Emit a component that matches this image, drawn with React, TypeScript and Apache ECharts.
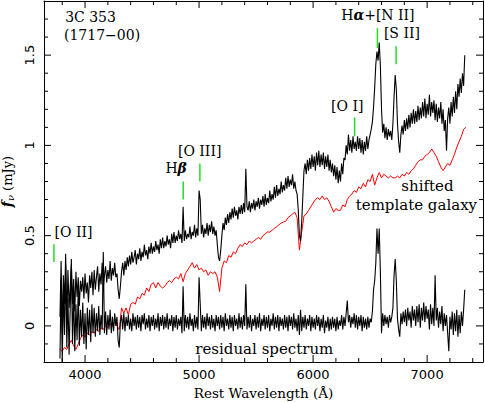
import React, { useEffect, useRef } from "react";
import * as echarts from "echarts";

const SPEC_START = 3780;
const SPEC_STEP = 10;
const TEMPLATE_START = 3780;
const TEMPLATE_STEP = 20;

// Observed spectrum f_nu (mJy) (10 Å steps from 3780 Å)
const OBSERVED = [
  0.05, 0.36, -0.04, 0.28, 0.12, 0.40, 0.02, 0.31, 0.10, 0.22,
  0.34, 0.12, 0.26, 0.08, 0.30, 0.16, 0.27, 0.11, 0.25, 0.19,
  0.27, 0.15, 0.29, 0.18, 0.24, 0.13, 0.28, 0.21, 0.30, 0.17,
  0.31, 0.20, 0.27, 0.33, 0.19, 0.29, 0.23, 0.35, 0.21, 0.28,
  0.33, 0.24, 0.31, 0.26, 0.36, 0.25, 0.32, 0.28, 0.35, 0.27,
  0.29, 0.20, 0.15, 0.22, 0.30, 0.35, 0.28, 0.36, 0.31, 0.38,
  0.33, 0.39, 0.34, 0.41, 0.35, 0.38, 0.42, 0.34, 0.40, 0.37,
  0.43, 0.36, 0.41, 0.38, 0.45, 0.39, 0.42, 0.37, 0.44, 0.40,
  0.46, 0.40, 0.44, 0.41, 0.47, 0.42, 0.45, 0.40, 0.48, 0.43,
  0.49, 0.43, 0.47, 0.44, 0.50, 0.45, 0.48, 0.43, 0.51, 0.46,
  0.52, 0.46, 0.50, 0.47, 0.53, 0.48, 0.51, 0.46, 0.66, 0.47,
  0.53, 0.48, 0.51, 0.49, 0.55, 0.48, 0.52, 0.50, 0.56, 0.49,
  0.54, 0.50, 0.75, 0.70, 0.51, 0.56, 0.49, 0.54, 0.51, 0.57,
  0.50, 0.56, 0.52, 0.58, 0.51, 0.55, 0.50, 0.53, 0.45, 0.38,
  0.36, 0.42, 0.50, 0.57, 0.53, 0.60, 0.56, 0.62, 0.57, 0.63,
  0.59, 0.65, 0.60, 0.66, 0.61, 0.64, 0.59, 0.66, 0.62, 0.67,
  0.62, 0.68, 0.63, 0.87, 0.66, 0.64, 0.69, 0.63, 0.68, 0.65,
  0.70, 0.64, 0.69, 0.66, 0.71, 0.65, 0.70, 0.67, 0.72, 0.66,
  0.73, 0.67, 0.71, 0.68, 0.75, 0.69, 0.73, 0.70, 0.77, 0.71,
  0.78, 0.72, 0.76, 0.73, 0.80, 0.74, 0.78, 0.75, 0.82, 0.76,
  0.83, 0.77, 0.81, 0.78, 0.84, 0.76, 0.80, 0.75, 0.73, 0.64,
  0.50, 0.47, 0.58, 0.72, 0.86, 0.90, 0.84, 0.92, 0.86, 0.93,
  0.87, 0.95, 0.88, 0.94, 0.86, 0.96, 0.89, 0.97, 0.88, 0.95,
  0.89, 0.96, 0.87, 0.94, 0.88, 0.95, 0.86, 0.92, 0.85, 0.90,
  0.83, 0.89, 0.81, 0.88, 0.79, 0.86, 0.80, 0.90, 0.84, 0.93,
  0.92, 1.00, 0.95, 1.06, 0.97, 1.03, 0.96, 1.05, 0.98, 1.02,
  0.97, 1.05, 0.98, 1.04, 0.96, 1.03, 0.95, 1.02, 0.97, 1.05,
  0.98, 1.03, 1.06, 1.09, 1.13, 1.21, 1.32, 1.45, 1.52, 1.47,
  1.57, 1.44, 1.20, 1.07, 1.12, 1.04, 1.10, 1.03, 1.09, 1.05,
  1.08, 1.03, 1.12, 1.27, 1.39, 1.31, 1.12, 1.02, 0.96, 1.06,
  1.11, 1.06, 1.14, 1.08, 1.15, 1.09, 1.17, 1.10, 1.18, 1.12,
  1.20, 1.12, 1.19, 1.13, 1.22, 1.14, 1.21, 1.15, 1.24, 1.16,
  1.26, 1.15, 1.23, 1.17, 1.28, 1.16, 1.24, 1.18, 1.25, 1.14,
  1.23, 1.13, 1.21, 1.15, 1.24, 1.12, 1.20, 1.08, 1.14, 0.97,
  1.15, 1.21, 1.12, 1.24, 1.16, 1.27, 1.18, 1.30, 1.20, 1.34,
  1.27, 1.37, 1.29, 1.40, 1.33, 1.50,
];

// Residual spectrum (mJy), 10 Å steps from 3780 Å
const RESIDUAL = [
  -0.18, 0.26, -0.20, 0.20, -0.05, 0.34, -0.12, 0.15, -0.16, 0.10,
  0.37, -0.10, 0.18, -0.14, 0.12, -0.08, 0.20, -0.11, 0.09, -0.06,
  0.13, -0.10, 0.07, -0.13, 0.10, -0.05, 0.09, -0.09, 0.12, -0.04,
  0.10, -0.06, 0.07, -0.03, 0.11, -0.05, 0.06, -0.02, 0.41, -0.04,
  0.08, -0.05, 0.06, -0.02, 0.09, -0.04, 0.05, -0.03, 0.07, 0.00,
  0.05, -0.08, -0.12, 0.02, 0.06, -0.02, 0.07, -0.03, 0.05, 0.00,
  0.06, -0.02, 0.04, -0.03, 0.07, 0.00, 0.05, -0.02, 0.06, -0.01,
  0.05, -0.03, 0.06, 0.01, 0.07, -0.02, 0.04, -0.01, 0.06, -0.03,
  0.05, 0.00, 0.06, -0.02, 0.04, -0.01, 0.07, -0.03, 0.05, 0.00,
  0.06, -0.02, 0.05, -0.01, 0.07, -0.02, 0.04, 0.00, 0.06, -0.03,
  0.05, -0.01, 0.06, -0.02, 0.04, 0.00, 0.05, -0.04, 0.22, -0.03,
  0.06, -0.01, 0.05, -0.02, 0.07, 0.00, 0.04, -0.03, 0.06, -0.01,
  0.05, -0.02, 0.27, 0.12, -0.03, 0.06, -0.01, 0.05, -0.02, 0.07,
  0.00, 0.05, -0.02, 0.06, -0.01, 0.04, -0.03, 0.06, 0.00, 0.05,
  -0.02, 0.06, -0.01, 0.05, -0.03, 0.07, 0.00, 0.04, -0.02, 0.06,
  -0.01, 0.05, -0.03, 0.06, 0.00, 0.04, -0.02, 0.07, -0.01, 0.05,
  -0.02, 0.06, 0.00, 0.23, -0.02, 0.05, -0.01, 0.06, -0.03, 0.04,
  0.00, 0.06, -0.02, 0.05, -0.01, 0.07, -0.03, 0.04, 0.00, 0.06,
  -0.02, 0.05, -0.01, 0.06, -0.03, 0.04, 0.00, 0.07, -0.02, 0.05,
  -0.01, 0.06, -0.03, 0.05, 0.00, 0.04, -0.02, 0.06, -0.01, 0.05,
  -0.03, 0.06, 0.00, 0.05, -0.02, 0.07, -0.01, 0.04, -0.03, 0.06,
  -0.05, 0.09, -0.03, 0.05, -0.01, 0.06, -0.02, 0.04, 0.00, 0.06,
  -0.03, 0.05, -0.01, 0.04, -0.02, 0.06, 0.00, 0.05, -0.03, 0.04,
  -0.01, 0.06, -0.04, 0.03, -0.01, 0.05, -0.03, 0.04, -0.02, 0.05,
  -0.01, 0.04, -0.03, 0.05, -0.02, 0.03, 0.00, 0.06, -0.02, 0.05,
  0.00, 0.07, 0.14, 0.02, 0.06, -0.01, 0.05, 0.01, 0.07, -0.01,
  0.06, -0.02, 0.05, 0.00, 0.06, -0.03, 0.05, -0.01, 0.04, -0.02,
  0.05, -0.01, 0.04, 0.02, 0.08, 0.20, 0.25, 0.35, 0.54, 0.40,
  0.54, 0.30, -0.04, 0.07, 0.00, 0.06, 0.01, 0.05, -0.01, 0.06,
  0.02, 0.05, 0.10, 0.28, 0.37, 0.25, 0.04, -0.02, -0.06, 0.07,
  0.01, 0.08, 0.02, 0.09, 0.00, 0.10, 0.03, 0.08, -0.01, 0.11,
  0.03, 0.09, 0.00, 0.11, 0.02, 0.12, -0.01, 0.10, 0.03, 0.13,
  0.02, 0.11, 0.04, 0.09, -0.02, 0.12, 0.01, 0.10, 0.00, 0.28,
  0.03, 0.10, -0.01, 0.08, 0.01, 0.11, -0.03, 0.07, 0.00, 0.06,
  -0.04, -0.14, 0.05, -0.02, 0.08, -0.05, 0.07, -0.03, 0.09, -0.06,
  0.06, -0.04, 0.08, 0.00, 0.09, 0.20,
];

// Shifted template galaxy (mJy), 20 Å steps from 3780 Å
const TEMPLATE = [
  -0.13, -0.14, -0.12, -0.13, -0.10, -0.08, -0.11, -0.13, -0.10, -0.07,
  -0.05, -0.06, -0.04, -0.05, -0.03, -0.04, -0.02, -0.03, -0.01, -0.02,
  0.00, -0.01, 0.01, 0.00, 0.02, 0.00, -0.02, 0.10, 0.07, 0.10,
  0.06, 0.12, 0.13, 0.12, 0.16, 0.15, 0.18, 0.17, 0.21, 0.19,
  0.23, 0.24, 0.21, 0.24, 0.22, 0.21, 0.22, 0.24, 0.25, 0.24,
  0.26, 0.27, 0.26, 0.29, 0.245, 0.29, 0.31, 0.33, 0.35, 0.32,
  0.34, 0.31, 0.32, 0.30, 0.31, 0.28, 0.30, 0.29, 0.30, 0.27,
  0.19, 0.32, 0.36, 0.35, 0.39, 0.38, 0.41, 0.40, 0.43, 0.45,
  0.44, 0.46, 0.45, 0.47, 0.46, 0.47, 0.48, 0.49, 0.48, 0.50,
  0.51, 0.52, 0.52, 0.53, 0.54, 0.55, 0.56, 0.57, 0.575, 0.58,
  0.60, 0.61, 0.62, 0.63, 0.60, 0.42, 0.52, 0.61, 0.62, 0.64,
  0.66, 0.68, 0.70, 0.71, 0.70, 0.72, 0.70, 0.71, 0.69, 0.66,
  0.63, 0.65, 0.64, 0.64, 0.67, 0.66, 0.70, 0.72, 0.73, 0.75,
  0.74, 0.77, 0.76, 0.79, 0.77, 0.81, 0.80, 0.84, 0.78, 0.82,
  0.85, 0.82, 0.84, 0.83, 0.82, 0.83, 0.82, 0.82, 0.83, 0.82,
  0.84, 0.83, 0.85, 0.84, 0.86, 0.87, 0.89, 0.91, 0.92, 0.92,
  0.94, 0.95, 0.96, 0.98, 0.96, 0.94, 0.91, 0.88, 0.86, 0.88,
  0.90, 0.89, 0.92, 0.95, 0.99, 1.02, 1.05, 1.09, 1.10,
];

// Axis ranges and ticks
const X_MIN = 3640;
const X_MAX = 7490;
const X_MAJOR = [4000, 5000, 6000, 7000];
const X_MINOR = [3800, 4200, 4400, 4600, 4800, 5200, 5400, 5600, 5800, 6200, 6400, 6600, 6800, 7200, 7400];
const Y_MIN = -0.2;
const Y_MAX = 1.8;
const Y_MAJOR = [0, 0.5, 1, 1.5];
const Y_MINOR = [-0.1, 0.1, 0.2, 0.3, 0.4, 0.6, 0.7, 0.8, 0.9, 1.1, 1.2, 1.3, 1.4, 1.6, 1.7];
const MAJOR_LEN = 7;
const MINOR_LEN = 4;

// Emission line identifications
const LINE_LABELS = ["[O II]", "H{gk|β}", "[O III]", "[O I]", "H{gk|α}+[N II]", "[S II]"];
const LINE_WAVES = [3727, 4861, 5007, 6364, 6564, 6728];
const LINE_MARK_LOW = [0.354, 0.70, 0.80, 1.05, 1.54, 1.45];
const LINE_MARK_HIGH = [0.453, 0.80, 0.90, 1.155, 1.65, 1.55];
const LINE_LABEL_WAVES = [3899, 4799, 5005, 6300, 6568, 6779];
const LINE_LABEL_FLUX = [0.52, 0.873, 0.967, 1.22, 1.72, 1.62];

// Other annotations
const NOTE_TEXTS = ["3C 353", "(1717\u221200)", "shifted", "template galaxy", "residual spectrum"];
const NOTE_WAVES = [4048, 4149, 7003, 6906, 5572];
const NOTE_FLUX = [1.713, 1.613, 0.773, 0.668, -0.127];
const NOTE_SIZES = [14, 14, 15, 15, 15];

const SERIF = "'DejaVu Serif', serif";
const SANS = "'DejaVu Sans', sans-serif";

function toPairs(values: number[], start: number, step: number) {
  return values.map((v, i) => [start + i * step, v]);
}

export default function App() {
  const ref = useRef<HTMLDivElement>(null);

  useEffect(() => {
    if (!ref.current) return;
    const chart = echarts.init(ref.current, undefined, { renderer: "svg" });
    const black = "#000";

    const option: any = {
      animation: false,
      backgroundColor: "#fff",
      grid: { left: 44, top: 1, width: 439, height: 361, outerBoundsMode: "none", containLabel: false },
      xAxis: [
        {
          type: "value",
          min: X_MIN,
          max: X_MAX,
          position: "bottom",
          name: "Rest Wavelength (\u00c5)",
          nameLocation: "middle",
          nameGap: 24,
          nameTextStyle: { fontFamily: SERIF, fontSize: 13.5, color: black },
          splitLine: { show: false },
          axisLine: { show: true, onZero: false, lineStyle: { color: black, width: 1 } },
          axisTick: { show: false },
          axisLabel: {
            show: true,
            customValues: X_MAJOR,
            margin: 6,
            color: black,
            fontFamily: SANS,
            fontSize: 13,
            formatter: (v: number) => String(v),
          },
        },
        {
          type: "value",
          min: X_MIN,
          max: X_MAX,
          position: "top",
          splitLine: { show: false },
          axisLine: { show: true, onZero: false, lineStyle: { color: black, width: 1 } },
          axisTick: { show: false },
          axisLabel: { show: false },
        },
      ],
      yAxis: [
        {
          type: "value",
          min: Y_MIN,
          max: Y_MAX,
          position: "left",
          name: "{f|f}{nu|\u03bd} (mJy)",
          nameLocation: "middle",
          nameGap: 28,
          nameRotate: 90,
          nameTextStyle: {
            fontFamily: SERIF,
            fontSize: 13,
            color: black,
            rich: {
              f: { fontFamily: SERIF, fontSize: 14, fontStyle: "italic", fontWeight: "bold", color: black },
              nu: { fontFamily: SERIF, fontSize: 10, fontStyle: "italic", color: black, verticalAlign: "bottom", padding: [6, 0, 0, 0] },
            },
          },
          splitLine: { show: false },
          axisLine: { show: true, onZero: false, lineStyle: { color: black, width: 1 } },
          axisTick: { show: false },
          axisLabel: {
            show: true,
            customValues: Y_MAJOR,
            rotate: 90,
            margin: 8,
            color: black,
            fontFamily: SANS,
            fontSize: 13,
            formatter: (v: number) => String(v),
          },
        },
        {
          type: "value",
          min: Y_MIN,
          max: Y_MAX,
          position: "right",
          splitLine: { show: false },
          axisLine: { show: true, onZero: false, lineStyle: { color: black, width: 1 } },
          axisTick: { show: false },
          axisLabel: { show: false },
        },
      ],
      series: [
        {
          name: "template",
          type: "line",
          data: toPairs(TEMPLATE, TEMPLATE_START, TEMPLATE_STEP),
          showSymbol: false,
          lineStyle: { color: "#ff0000", width: 1 },
          z: 2,
        },
        {
          name: "residual",
          type: "line",
          data: toPairs(RESIDUAL, SPEC_START, SPEC_STEP),
          showSymbol: false,
          lineStyle: { color: black, width: 1.1 },
          z: 3,
        },
        {
          name: "observed",
          type: "line",
          data: toPairs(OBSERVED, SPEC_START, SPEC_STEP),
          showSymbol: false,
          lineStyle: { color: black, width: 1.1 },
          z: 3,
        },
        {
          name: "x ticks",
          type: "custom",
          clip: false,
          silent: true,
          data: [...X_MAJOR.map((v) => [v, Y_MIN, MAJOR_LEN]), ...X_MINOR.map((v) => [v, Y_MIN, MINOR_LEN])],
          renderItem: (params: any, api: any) => {
            const v = api.value(0);
            const len = api.value(2);
            const b = api.coord([v, Y_MIN]);
            const t = api.coord([v, Y_MAX]);
            return {
              type: "group",
              children: [
                { type: "line", shape: { x1: b[0], y1: b[1], x2: b[0], y2: b[1] - len }, style: { stroke: black, lineWidth: 1 } },
                { type: "line", shape: { x1: t[0], y1: t[1], x2: t[0], y2: t[1] + len }, style: { stroke: black, lineWidth: 1 } },
              ],
            };
          },
          z: 6,
        },
        {
          name: "y ticks",
          type: "custom",
          clip: false,
          silent: true,
          data: [...Y_MAJOR.map((v) => [X_MIN, v, MAJOR_LEN]), ...Y_MINOR.map((v) => [X_MIN, v, MINOR_LEN])],
          renderItem: (params: any, api: any) => {
            const v = api.value(1);
            const len = api.value(2);
            const l = api.coord([X_MIN, v]);
            const r = api.coord([X_MAX, v]);
            return {
              type: "group",
              children: [
                { type: "line", shape: { x1: l[0], y1: l[1], x2: l[0] + len, y2: l[1] }, style: { stroke: black, lineWidth: 1 } },
                { type: "line", shape: { x1: r[0], y1: r[1], x2: r[0] - len, y2: r[1] }, style: { stroke: black, lineWidth: 1 } },
              ],
            };
          },
          z: 6,
        },
        {
          name: "line marks",
          type: "custom",
          clip: false,
          silent: true,
          data: LINE_WAVES.map((w, i) => [w, LINE_MARK_LOW[i], LINE_MARK_HIGH[i]]),
          renderItem: (params: any, api: any) => {
            const lo = api.coord([api.value(0), api.value(1)]);
            const hi = api.coord([api.value(0), api.value(2)]);
            return {
              type: "line",
              shape: { x1: lo[0], y1: lo[1], x2: hi[0], y2: hi[1] },
              style: { stroke: "#22e022", lineWidth: 1.5 },
            };
          },
          z: 4,
        },
        {
          name: "line labels",
          type: "custom",
          clip: false,
          silent: true,
          data: LINE_LABEL_WAVES.map((w, i) => [w, LINE_LABEL_FLUX[i]]),
          renderItem: (params: any, api: any) => {
            const p = api.coord([api.value(0), api.value(1)]);
            return {
              type: "text",
              x: p[0],
              y: p[1],
              style: {
                text: LINE_LABELS[params.dataIndex],
                fontFamily: SERIF,
                fontSize: 14,
                fill: black,
                align: "center",
                verticalAlign: "middle",
                rich: {
                  gk: { fontFamily: SERIF, fontSize: 14, fontStyle: "italic", fontWeight: "bold", fill: black },
                },
              },
            };
          },
          z: 5,
        },
        {
          name: "notes",
          type: "custom",
          clip: false,
          silent: true,
          data: NOTE_WAVES.map((w, i) => [w, NOTE_FLUX[i]]),
          renderItem: (params: any, api: any) => {
            const p = api.coord([api.value(0), api.value(1)]);
            return {
              type: "text",
              x: p[0],
              y: p[1],
              style: {
                text: NOTE_TEXTS[params.dataIndex],
                fontFamily: SERIF,
                fontSize: NOTE_SIZES[params.dataIndex],
                fill: black,
                align: "center",
                verticalAlign: "middle",
              },
            };
          },
          z: 5,
        },
      ],
    };

    chart.setOption(option);
    return () => chart.dispose();
  }, []);

  return (
    <div
      ref={ref}
      style={{ position: "fixed", left: 0, top: 0, width: 485, height: 402, background: "#fff" }}
    />
  );
}
